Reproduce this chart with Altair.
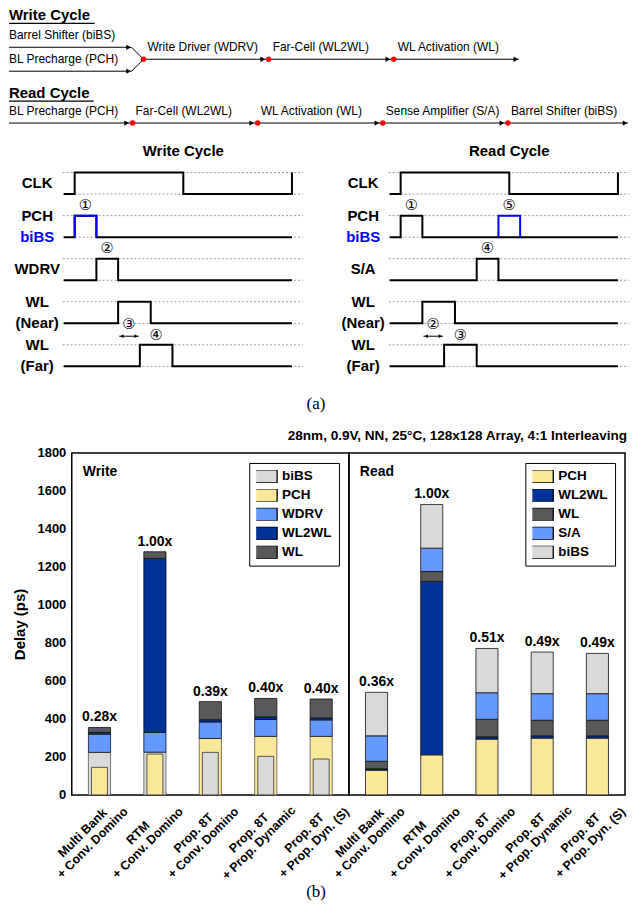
import altair as alt
import pandas as pd

# ======================= DATA =======================
# (a) flow diagrams
WRITE_INPUTS = ["Barrel Shifter (biBS)", "BL Precharge (PCH)"]
WRITE_STAGES = ["Write Driver (WDRV)", "Far-Cell (WL2WL)", "WL Activation (WL)"]
READ_STAGES = ["BL Precharge (PCH)", "Far-Cell (WL2WL)", "WL Activation (WL)",
               "Sense Amplifier (S/A)", "Barrel Shifter (biBS)"]

# (a) timing diagrams (time in clock sub-phase units)
CLK_EDGES = [1, 11, 21]
END_T = 21
WRITE_ROWS = [["CLK"], ["PCH", "biBS"], ["WDRV"], ["WL", "(Near)"], ["WL", "(Far)"]]
WRITE_PULSES = [None, (1, 3), (3, 5), (5, 8), (7, 10)]
WRITE_BLUE = (1, 3)
WRITE_MARKS = ["①", "②", "③", "④"]
READ_ROWS = [["CLK"], ["PCH", "biBS"], ["S/A"], ["WL", "(Near)"], ["WL", "(Far)"]]
READ_PULSES = [None, (1, 3), (8, 10), (3, 6), (5, 8)]
READ_BLUE = (10, 12)
READ_MARKS = ["①", "②", "③", "④", "⑤"]

# (b) delay breakdown (ps)
DESIGN_L1 = ["Multi Bank", "RTM", "Prop. 8T", "Prop. 8T", "Prop. 8T"]
DESIGN_L2 = ["+ Conv. Domino", "+ Conv. Domino", "+ Conv. Domino", "+ Prop. Dynamic", "+ Prop. Dyn. (S)"]
W_BIBS = [224, 225, 224, 203, 189]
W_PCH = [145, 215, 297, 308, 308]
W_WDRV = [96, 104, 87, 89, 87]
W_WL2WL = [9, 916, 12, 14, 10]
W_WL = [26, 35, 95, 97, 100]
W_RATIO = ["0.28x", "1.00x", "0.39x", "0.40x", "0.40x"]
R_PCH = [130, 211, 294, 299, 299]
R_WL2WL = [8, 913, 12, 12, 12]
R_WL = [39, 52, 92, 82, 82]
R_SA = [134, 123, 140, 140, 140]
R_BIBS = [229, 230, 233, 219, 212]
R_RATIO = ["0.36x", "1.00x", "0.51x", "0.49x", "0.49x"]

CONDITION = "28nm, 0.9V, NN, 25°C, 128x128 Array, 4:1 Interleaving"

# ======================= STYLE =======================
FONT = "Liberation Sans"
SERIF = "Liberation Serif"
BLUE = "#0000FF"
C_GRAY, C_YEL, C_BLUE, C_NAVY, C_DGRAY = "#D9D9D9", "#FBE799", "#6699FF", "#003399", "#595959"

# ======================= (a) FLOW DIAGRAM =======================
FW, FH = 632, 128
STEP = 125.5
W_NODE0, R_NODE0 = 143, 132
seg, pts, txt = [], [], []


def addtext(s, x, y, weight="normal"):
    txt.append(dict(s=s, x=x, y=y, weight=weight))


addtext("Write Cycle", 8, 13, "bold")
seg.append(dict(x=8, y=21, x2=94, y2=21, w=1.3))
wnodes = [W_NODE0 + i * STEP for i in range(len(WRITE_STAGES))]
for k, lab in enumerate(WRITE_INPUTS):
    yy = 45 if k == 0 else 69
    addtext(lab, 8, 33 if k == 0 else 57)
    seg.append(dict(x=8, y=yy, x2=131, y2=yy, w=1))
    seg.append(dict(x=131, y=yy, x2=wnodes[0], y2=57, w=1))
    pts.append(dict(x=128, y=yy, kind="arrow"))
wend = wnodes[-1] + STEP
seg.append(dict(x=wnodes[0], y=57, x2=wend, y2=57, w=1))
for i, s in enumerate(WRITE_STAGES):
    addtext(s, wnodes[i] + 4, 45)
    pts.append(dict(x=wnodes[i], y=57, kind="dot"))
    if i > 0:
        pts.append(dict(x=wnodes[i] - 6, y=57, kind="arrow"))
pts.append(dict(x=wend - 3, y=57, kind="arrow"))

addtext("Read Cycle", 8, 91, "bold")
seg.append(dict(x=8, y=99, x2=93, y2=99, w=1.3))
rnodes = [R_NODE0 + i * STEP for i in range(len(READ_STAGES) - 1)]
rend = 629
seg.append(dict(x=8, y=121, x2=rend, y2=121, w=1))
for i, s in enumerate(READ_STAGES):
    addtext(s, 8 if i == 0 else rnodes[i - 1] + 3, 109)
for n in rnodes:
    pts.append(dict(x=n, y=121, kind="dot"))
    pts.append(dict(x=n - 6, y=121, kind="arrow"))
pts.append(dict(x=rend - 3, y=121, kind="arrow"))

fx = alt.Scale(domain=[0, FW], nice=False, zero=False)
fy = alt.Scale(domain=[0, FH], nice=False, zero=False, reverse=True)
FX = alt.X("x:Q", scale=fx, axis=None)
FY = alt.Y("y:Q", scale=fy, axis=None)
segdf, ptsdf, txtdf = pd.DataFrame(seg), pd.DataFrame(pts), pd.DataFrame(txt)
flow = alt.layer(
    alt.Chart(segdf).mark_rule(color="black").encode(
        x=FX, y=FY, x2="x2:Q", y2="y2:Q", strokeWidth=alt.StrokeWidth("w:Q", scale=None)),
    alt.Chart(ptsdf).transform_filter("datum.kind == 'arrow'").mark_point(
        shape="triangle-right", filled=True, color="black", size=28, opacity=1).encode(x=FX, y=FY),
    alt.Chart(ptsdf).transform_filter("datum.kind == 'dot'").mark_circle(
        color="#FF0000", size=30, opacity=1).encode(x=FX, y=FY),
    alt.Chart(txtdf).transform_filter("datum.weight == 'normal'").mark_text(
        font=FONT, fontSize=12, align="left", baseline="middle", color="black").encode(
        x=FX, y=FY, text="s:N"),
    alt.Chart(txtdf).transform_filter("datum.weight == 'bold'").mark_text(
        font=FONT, fontSize=15, fontWeight="bold", align="left", baseline="middle", color="black").encode(
        x=FX, y=FY, text="s:N"),
).properties(width=FW, height=FH)

# ======================= (a) TIMING DIAGRAMS =======================
PX_T = 10.9
PX_V = 21.6
TW, TH = 316, 254
V_TOP = 2.884
VDOM = [V_TOP - TH / PX_V, V_TOP]
LABEL_T = -2.45


def timing(title, rows, pulses, blue, marks, t0_px):
    xdom = [-t0_px / PX_T, (TW - t0_px) / PX_T]
    wave, dotted, labels, circ = [], [], [], []
    for k, names in enumerate(rows):
        lo, hi = -2 * k, -2 * k + 1
        dotted += [dict(a=-0.1, b=22, v=lo), dict(a=-0.1, b=22, v=hi)]
        if k == 0:
            seq = [(0, lo)]
            lvl = lo
            for e in CLK_EDGES:
                seq.append((e, lvl))
                lvl = hi if lvl == lo else lo
                seq.append((e, lvl))
        else:
            a, b = pulses[k]
            seq = [(0, lo), (a, lo), (a, hi), (b, hi), (b, lo), (END_T, lo)]
        for j, (t, v) in enumerate(seq):
            wave.append(dict(sig=f"s{k}", o=j, t=t, v=v, c="black"))
        if len(names) == 1:
            labels.append(dict(s=names[0], t=LABEL_T, v=(lo + hi) / 2, c="black"))
        else:
            labels.append(dict(s=names[0], t=LABEL_T, v=hi, c="black"))
            labels.append(dict(s=names[1], t=LABEL_T, v=lo, c=BLUE if names[1] == "biBS" else "black"))
    a, b = blue
    for j, (t, v) in enumerate([(a, -2), (a, -1), (b, -1), (b, -2)]):
        wave.append(dict(sig="blue", o=j, t=t, v=v, c=BLUE))
    near, far = pulses[3], pulses[4]
    order = []
    for k in (1, 2):
        a2, b2 = pulses[k]
        order.append(((a2 + b2) / 2, -2 * k + 1.5, a2))
    order.append(((near[0] + far[0]) / 2, -6.05, near[0]))
    order.append(((far[0] + far[1]) / 2, -6.55, far[0]))
    if blue != pulses[1]:
        order.append(((blue[0] + blue[1]) / 2, -0.5, blue[0]))
    order.sort(key=lambda r: r[2])
    for m, (t, v, _) in zip(marks, order):
        circ.append(dict(s=m, t=t, v=v))
    arrow = pd.DataFrame([dict(a=near[0] + 0.1, b=far[0] - 0.1, v=-6.6)])
    arrowheads = pd.DataFrame([dict(t=near[0] + 0.35, v=-6.6, sh="triangle-left"),
                               dict(t=far[0] - 0.35, v=-6.6, sh="triangle-right")])
    xs = alt.Scale(domain=xdom, nice=False, zero=False)
    ys = alt.Scale(domain=VDOM, nice=False, zero=False)
    X = lambda f: alt.X(f, scale=xs, axis=None)
    Y = lambda f: alt.Y(f, scale=ys, axis=None)
    l_dot = alt.Chart(pd.DataFrame(dotted)).mark_rule(color="#9a9a9a", strokeDash=[2, 2], strokeWidth=1).encode(
        x=X("a:Q"), x2="b:Q", y=Y("v:Q"))
    l_wave = alt.Chart(pd.DataFrame(wave)).mark_line(strokeWidth=2, strokeJoin="miter").encode(
        x=X("t:Q"), y=Y("v:Q"), detail="sig:N", order="o:Q", color=alt.Color("c:N", scale=None))
    l_lab = alt.Chart(pd.DataFrame(labels)).mark_text(font=FONT, fontSize=15, fontWeight="bold",
                                                      align="center", baseline="middle").encode(
        x=X("t:Q"), y=Y("v:Q"), text="s:N", color=alt.Color("c:N", scale=None))
    l_circ = alt.Chart(pd.DataFrame(circ)).mark_text(font="DejaVu Sans", fontSize=15,
                                                     baseline="middle", color="black").encode(
        x=X("t:Q"), y=Y("v:Q"), text="s:N")
    l_arr = alt.Chart(arrow).mark_rule(color="black", strokeWidth=1).encode(x=X("a:Q"), x2="b:Q", y=Y("v:Q"))
    l_ah = alt.Chart(arrowheads).mark_point(filled=True, color="black", size=14, opacity=1).encode(
        x=X("t:Q"), y=Y("v:Q"), shape=alt.Shape("sh:N", scale=None))
    l_title = alt.Chart(pd.DataFrame([dict(s=title, t=11, v=2.0)])).mark_text(
        font=FONT, fontSize=15, fontWeight="bold", baseline="middle", color="black").encode(
        x=X("t:Q"), y=Y("v:Q"), text="s:N")
    return alt.layer(l_dot, l_wave, l_lab, l_circ, l_arr, l_ah, l_title).properties(width=TW, height=TH)


t_write = timing("Write Cycle", WRITE_ROWS, WRITE_PULSES, WRITE_BLUE, WRITE_MARKS, 63)
t_read = timing("Read Cycle", READ_ROWS, READ_PULSES, READ_BLUE, READ_MARKS, 74)
timing_row = alt.hconcat(t_write, t_read, spacing=0, bounds="flush")

# ======================= row with (a) and condition =======================
ROW3_H = 58
row3 = alt.layer(
    alt.Chart(pd.DataFrame([dict(s="(a)")])).mark_text(font=SERIF, fontSize=17, baseline="middle",
                                                       color="black").encode(
        text="s:N", x=alt.value(316), y=alt.value(17)),
    alt.Chart(pd.DataFrame([dict(s=CONDITION)])).mark_text(font=FONT, fontSize=13.6, fontWeight="bold",
                                                           align="right", baseline="middle",
                                                           color="black").encode(
        text="s:N", x=alt.value(628), y=alt.value(49)),
).properties(width=632, height=ROW3_H)

# ======================= (b) BAR CHART =======================
PW_W, PW_R, PH = 278, 277, 343
LEFT = 71
KEYS = [f"{a}|{b}" for a, b in zip(DESIGN_L1, DESIGN_L2)]
ysc = alt.Scale(domain=[0, 1800], nice=False, zero=True)
xsc = alt.Scale(paddingInner=0.6, paddingOuter=0.3)
yaxis = alt.Axis(values=list(range(0, 1801, 200)), format="d", title="Delay (ps)", titleFont=FONT,
                 titleFontSize=15, titleFontWeight="bold", titleColor="black",
                 labelFont=FONT, labelFontSize=13, labelFontWeight="bold", labelColor="black",
                 ticks=False, domain=False, grid=False, labelPadding=6, titlePadding=10)
SYMBOL = "M-1.857,-0.929H1.857V0.929H-1.857Z"
LBL_DX, LBL_DY, LBL_LH = -39, 22, 14


def legend():
    return alt.Legend(orient="top-right", offset=10, title=None, strokeColor="black",
                      fillColor="white", padding=7, labelFont=FONT, labelFontSize=13.5,
                      labelFontWeight="bold", labelColor="black", symbolType=SYMBOL,
                      symbolSize=196, symbolStrokeColor="black", symbolStrokeWidth=1.3,
                      symbolOpacity=1, rowPadding=5, labelOffset=10, cornerRadius=0,
                      clipHeight=13)


def panel(name, comps, colors, outer, inner, stack, labels, width, with_yaxis, extra=None):
    color = alt.Color("comp:N", scale=alt.Scale(domain=comps, range=colors), legend=legend())
    X = alt.X("design:N", sort=KEYS, scale=xsc, axis=None)
    Y = lambda f: alt.Y(f, scale=ysc, axis=yaxis if with_yaxis else None, title="Delay (ps)")
    layers = []
    if outer is not None:
        layers.append(alt.Chart(pd.DataFrame(outer)).mark_bar(stroke="#555", strokeWidth=0.8).encode(
            x=X, y=Y("lo:Q"), y2="hi:Q", color=color))
        layers.append(alt.Chart(pd.DataFrame(inner)).mark_bar(width=16, stroke="#333", strokeWidth=0.8).encode(
            x=X, y=Y("lo:Q"), y2="hi:Q", color=color))
    layers.append(alt.Chart(pd.DataFrame(stack)).mark_bar(stroke="#111", strokeWidth=0.8).encode(
        x=X, y=Y("lo:Q"), y2="hi:Q", color=color))
    layers.append(alt.Chart(pd.DataFrame(labels)).mark_text(
        font=FONT, fontSize=14, fontWeight="bold", baseline="bottom", dy=-3, color="black").encode(
        x=X, y=Y("hi:Q"), text="txt:N"))
    cat = pd.DataFrame(dict(design=KEYS, l1=DESIGN_L1, l2=DESIGN_L2))
    for fld, dy in (("l1", LBL_DY - LBL_LH / 2), ("l2", LBL_DY + LBL_LH / 2)):
        layers.append(alt.Chart(cat).mark_text(
            font=FONT, fontSize=12.5, fontWeight="bold", angle=315, align="center", baseline="middle",
            dx=LBL_DX, dy=dy, color="black").encode(x=X, y=alt.value(PH), text=f"{fld}:N"))
    layers.append(alt.Chart(pd.DataFrame([dict(s=name)])).mark_text(
        font=FONT, fontSize=14, fontWeight="bold", align="left", baseline="middle", color="black").encode(
        text="s:N", x=alt.value(11), y=alt.value(19)))
    if extra is not None:
        layers.append(extra)
    return alt.layer(*layers).properties(width=width, height=PH,
                                         view=alt.ViewBackground(stroke="black", strokeWidth=1.5))


w_outer, w_inner, w_stack, w_lab = [], [], [], []
for i, d in enumerate(KEYS):
    b, p = W_BIBS[i], W_PCH[i]
    big, small = (("biBS", b), ("PCH", p)) if b >= p else (("PCH", p), ("biBS", b))
    w_outer.append(dict(design=d, comp=big[0], lo=0, hi=big[1]))
    w_inner.append(dict(design=d, comp=small[0], lo=0, hi=small[1]))
    base = max(b, p)
    for comp, vals in (("WDRV", W_WDRV), ("WL2WL", W_WL2WL), ("WL", W_WL)):
        w_stack.append(dict(design=d, comp=comp, lo=base, hi=base + vals[i]))
        base += vals[i]
    w_lab.append(dict(design=d, hi=base, txt=W_RATIO[i]))

r_stack, r_lab = [], []
for i, d in enumerate(KEYS):
    base = 0
    for comp, vals in (("PCH", R_PCH), ("WL2WL", R_WL2WL), ("WL", R_WL), ("S/A", R_SA), ("biBS", R_BIBS)):
        r_stack.append(dict(design=d, comp=comp, lo=base, hi=base + vals[i]))
        base += vals[i]
    r_lab.append(dict(design=d, hi=base, txt=R_RATIO[i]))

b_label = alt.Chart(pd.DataFrame([dict(s="(b)")])).mark_text(
    font=SERIF, fontSize=17, baseline="middle", color="black").encode(
    text="s:N", x=alt.value(316 - LEFT), y=alt.value(PH + 97))

p_write = panel("Write", ["biBS", "PCH", "WDRV", "WL2WL", "WL"],
                [C_GRAY, C_YEL, C_BLUE, C_NAVY, C_DGRAY], w_outer, w_inner, w_stack, w_lab, PW_W, True,
                extra=b_label)
p_read = panel("Read", ["PCH", "WL2WL", "WL", "S/A", "biBS"],
               [C_YEL, C_NAVY, C_DGRAY, C_BLUE, C_GRAY], None, None, r_stack, r_lab, PW_R, False)

spacer = alt.Chart(pd.DataFrame([dict(s="")])).mark_text(opacity=0).encode(
    text="s:N", x=alt.value(1), y=alt.value(PH / 2)).properties(width=LEFT, height=PH)

bar_row = alt.hconcat(spacer, p_write, p_read, spacing=0, bounds="flush").resolve_scale(
    color="independent", y="independent", x="independent")

chart = alt.vconcat(flow, timing_row, row3, bar_row, spacing=0).resolve_scale(
    color="independent").properties(padding=0, background="white").configure_view(stroke="transparent")

chart.save("out.html", embed_options={"renderer": "svg", "actions": False})
